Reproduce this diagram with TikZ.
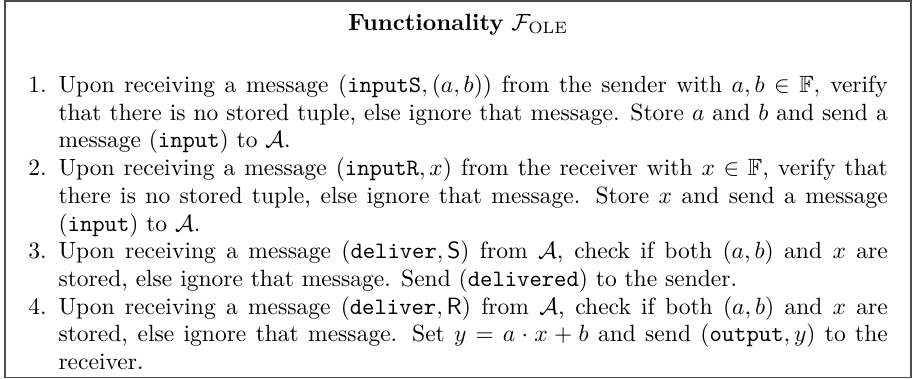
\documentclass[tikz,border=0pt]{standalone}
\usepackage{amsmath, amssymb}
\usepackage{enumitem}
\usetikzlibrary{positioning}

\begin{document}
\begin{tikzpicture}[x=1pt, y=1pt]
  \useasboundingbox (0,0) rectangle (388,160.9);
  \draw[black!70, line width=0.6pt] (2.1,0.3) rectangle (387.6,160.5);
  \node[anchor=base, inner sep=0pt] (title) at (194.9,148) {\textbf{Functionality} $\mathcal{F}_{\mathrm{OLE}}$};
  \node[anchor=north west, text width=369.8pt, align=justify, inner sep=0pt,
        font=\fontsize{10pt}{11.8pt}\selectfont] (steps) at (7.7,133.6) {
    \begin{enumerate}[leftmargin=17pt, nosep]
      \item Upon receiving a message $(\texttt{inputS},(a,b))$ from the sender with $a,b\in\mathbb{F}$, verify that there is no stored tuple, else ignore that message. Store $a$ and $b$ and send a message $(\texttt{input})$ to $\mathcal{A}$.
      \item Upon receiving a message $(\texttt{inputR},x)$ from the receiver with $x\in\mathbb{F}$, verify that there is no stored tuple, else ignore that message. Store $x$ and send a message $(\texttt{input})$ to $\mathcal{A}$.
      \item Upon receiving a message $(\texttt{deliver},\mathsf{S})$ from $\mathcal{A}$, check if both $(a,b)$ and $x$ are stored, else ignore that message. Send $(\texttt{delivered})$ to the sender.
      \item Upon receiving a message $(\texttt{deliver},\mathsf{R})$ from $\mathcal{A}$, check if both $(a,b)$ and $x$ are stored, else ignore that message. Set $y=a\cdot x+b$ and send $(\texttt{output},y)$ to the receiver.
    \end{enumerate}
  };
\end{tikzpicture}
\end{document}
